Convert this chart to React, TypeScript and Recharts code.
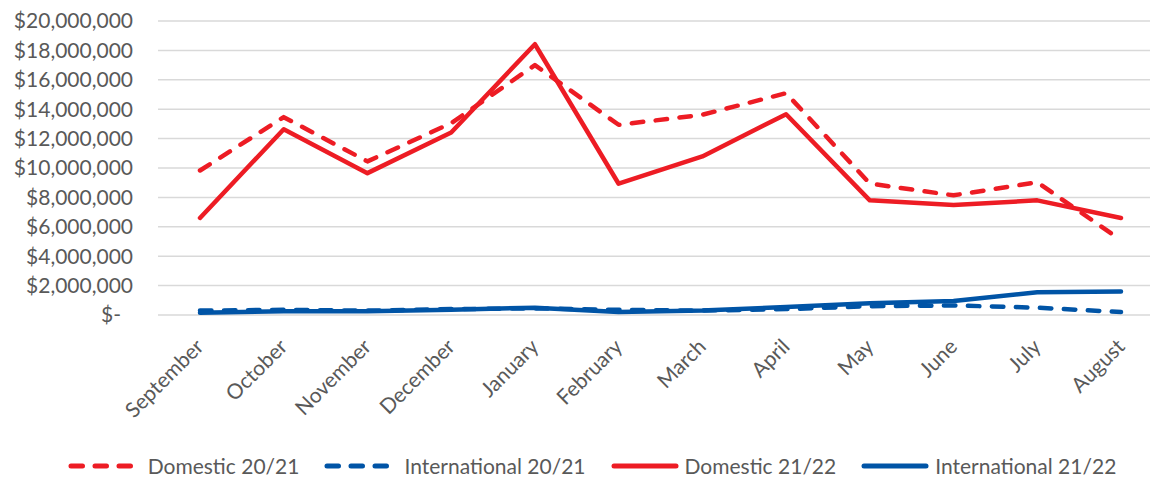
import React from "react";
import { LineChart, Line, XAxis, YAxis, CartesianGrid, Legend } from "recharts";

const months = ["September", "October", "November", "December", "January", "February", "March", "April", "May", "June", "July", "August"];
const domestic2021 = [9830000, 13460000, 10450000, 13050000, 17000000, 12940000, 13620000, 15090000, 8940000, 8140000, 9030000, 5090000];
const international2021 = [300000, 350000, 300000, 400000, 450000, 350000, 300000, 400000, 600000, 650000, 500000, 200000];
const domestic2122 = [6600000, 12640000, 9650000, 12420000, 18420000, 8930000, 10790000, 13660000, 7800000, 7490000, 7800000, 6600000];
const international2122 = [150000, 250000, 250000, 350000, 500000, 200000, 300000, 550000, 800000, 950000, 1550000, 1600000];
const yTicks = [0, 2000000, 4000000, 6000000, 8000000, 10000000, 12000000, 14000000, 16000000, 18000000, 20000000];

const seriesNames = ["Domestic 20/21", "International 20/21", "Domestic 21/22", "International 21/22"];

const data = months.map((m, i) => ({
  month: m,
  d2021: domestic2021[i],
  i2021: international2021[i],
  d2122: domestic2122[i],
  i2122: international2122[i],
}));

const RED = "#ED1C24";
const BLUE = "#0054A6";
const GRAY = "#595959";
const FONT = "Lato, 'Open Sans', sans-serif";
const FS = 21;

const fmt = (v: number) => (v === 0 ? "$-" : "$" + v.toLocaleString("en-US"));

const YTick = (props: any) => {
  const { x, y, payload } = props;
  const v = payload.value;
  return (
    <text x={v === 0 ? x - 12 : x} y={y} dy="0.355em" textAnchor="end" fill={GRAY} fontSize={FS} fontFamily={FONT}>
      {fmt(v)}
    </text>
  );
};

const XTick = (props: any) => {
  const { x, y, payload } = props;
  return (
    <text transform={`translate(${x + 5},${y + 25}) rotate(-45)`} textAnchor="end" fill={GRAY} fontSize={FS} fontFamily={FONT}>
      {payload.value}
    </text>
  );
};

const legendItems = [
  { name: seriesNames[0], color: RED, dashed: true },
  { name: seriesNames[1], color: BLUE, dashed: true },
  { name: seriesNames[2], color: RED, dashed: false },
  { name: seriesNames[3], color: BLUE, dashed: false },
];

const LegendContent = () => (
  <div style={{ display: "flex", justifyContent: "center", alignItems: "center", paddingLeft: 34, fontFamily: FONT, fontSize: FS, color: GRAY }}>
    {legendItems.map((it, i) => (
      <div key={i} style={{ display: "flex", alignItems: "center", marginRight: i < 3 ? 25 : 0 }}>
        <svg width={68} height={10} style={{ marginRight: it.dashed ? 12 : 6 }}>
          <line
            x1={3}
            y1={5}
            x2={65}
            y2={5}
            stroke={it.color}
            strokeWidth={5}
            strokeLinecap="round"
            strokeDasharray={it.dashed ? "11.5 12.5" : undefined}
          />
        </svg>
        <span style={{ lineHeight: "24px" }}>{it.name}</span>
      </div>
    ))}
  </div>
);

export default function App() {
  return (
    <div style={{ position: "absolute", left: 0, top: 0, width: 1150, height: 479, background: "#fff" }}>
      <LineChart width={1150} height={479} data={data} margin={{ top: 21, right: 0, left: 0, bottom: 0 }}>
        <CartesianGrid vertical={false} stroke="#D9D9D9" strokeWidth={1.5} />
        <XAxis
          dataKey="month"
          padding={{ left: 42, right: 29 }}
          axisLine={false}
          tickLine={false}
          height={164}
          interval={0}
          tick={<XTick />}
        />
        <YAxis
          width={158}
          domain={[0, 20000000]}
          ticks={yTicks}
          interval={0}
          axisLine={false}
          tickLine={false}
          tickMargin={19}
          tick={<YTick />}
        />
        <Legend
          verticalAlign="middle"
          align="center"
          layout="horizontal"
          wrapperStyle={{ top: 454, left: 0, width: 1150 }}
          content={<LegendContent />}
        />
        <Line type="linear" dataKey="d2021" name={seriesNames[0]} stroke={RED} strokeWidth={4.5} strokeDasharray="11.5 12.5" strokeLinecap="round" strokeLinejoin="round" dot={false} activeDot={false} isAnimationActive={false} />
        <Line type="linear" dataKey="i2021" name={seriesNames[1]} stroke={BLUE} strokeWidth={4.5} strokeDasharray="11.5 12.5" strokeLinecap="round" strokeLinejoin="round" dot={false} activeDot={false} isAnimationActive={false} />
        <Line type="linear" dataKey="d2122" name={seriesNames[2]} stroke={RED} strokeWidth={4.5} strokeLinecap="round" strokeLinejoin="round" dot={false} activeDot={false} isAnimationActive={false} />
        <Line type="linear" dataKey="i2122" name={seriesNames[3]} stroke={BLUE} strokeWidth={4.5} strokeLinecap="round" strokeLinejoin="round" dot={false} activeDot={false} isAnimationActive={false} />
      </LineChart>
    </div>
  );
}
